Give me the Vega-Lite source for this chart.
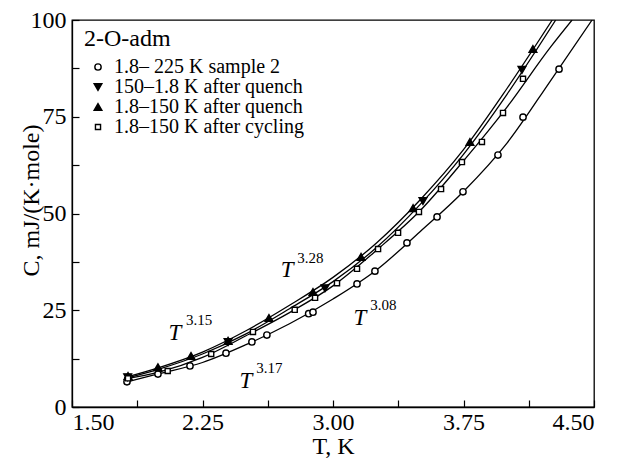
{
  "$schema": "https://vega.github.io/schema/vega-lite/v6.json",
  "autosize": "none",
  "width": 522,
  "height": 387,
  "padding": {"left": 72, "top": 20, "right": 44, "bottom": 58},
  "background": "white",
  "config": {
    "view": {"stroke": "black", "strokeWidth": 1.3},
    "font": "Liberation Serif",
    "axis": {
      "domainColor": "black", "domainWidth": 1.3, "tickColor": "black", "tickWidth": 1.2,
      "labelColor": "black", "titleColor": "black", "labelFont": "Liberation Serif",
      "titleFont": "Liberation Serif", "labelFontSize": 24, "titleFontSize": 24,
      "titleFontWeight": "normal", "grid": false, "tickSize": -7
    }
  },
  "datasets": {
    "pts": [
      {"T": 1.816, "C": 6.5, "s": "1.8– 225 K sample 2"},
      {"T": 1.994, "C": 8.5, "s": "1.8– 225 K sample 2"},
      {"T": 2.178, "C": 10.6, "s": "1.8– 225 K sample 2"},
      {"T": 2.385, "C": 13.9, "s": "1.8– 225 K sample 2"},
      {"T": 2.534, "C": 16.8, "s": "1.8– 225 K sample 2"},
      {"T": 2.62, "C": 18.6, "s": "1.8– 225 K sample 2"},
      {"T": 2.86, "C": 24.1, "s": "1.8– 225 K sample 2"},
      {"T": 2.885, "C": 24.5, "s": "1.8– 225 K sample 2"},
      {"T": 3.138, "C": 31.8, "s": "1.8– 225 K sample 2"},
      {"T": 3.241, "C": 35.1, "s": "1.8– 225 K sample 2"},
      {"T": 3.425, "C": 42.4, "s": "1.8– 225 K sample 2"},
      {"T": 3.598, "C": 49.1, "s": "1.8– 225 K sample 2"},
      {"T": 3.747, "C": 55.6, "s": "1.8– 225 K sample 2"},
      {"T": 3.948, "C": 65.1, "s": "1.8– 225 K sample 2"},
      {"T": 4.092, "C": 74.9, "s": "1.8– 225 K sample 2"},
      {"T": 4.299, "C": 87.3, "s": "1.8– 225 K sample 2"},
      {"T": 1.82, "C": 7.7, "s": "150–1.8 K after quench"},
      {"T": 2.397, "C": 16.8, "s": "150–1.8 K after quench"},
      {"T": 2.954, "C": 30.7, "s": "150–1.8 K after quench"},
      {"T": 3.517, "C": 53.2, "s": "150–1.8 K after quench"},
      {"T": 4.086, "C": 87.1, "s": "150–1.8 K after quench"},
      {"T": 1.822, "C": 8.0, "s": "1.8–150 K after quench"},
      {"T": 1.994, "C": 10.3, "s": "1.8–150 K after quench"},
      {"T": 2.184, "C": 13.2, "s": "1.8–150 K after quench"},
      {"T": 2.397, "C": 17.1, "s": "1.8–150 K after quench"},
      {"T": 2.632, "C": 23.0, "s": "1.8–150 K after quench"},
      {"T": 2.885, "C": 29.7, "s": "1.8–150 K after quench"},
      {"T": 3.161, "C": 38.8, "s": "1.8–150 K after quench"},
      {"T": 3.46, "C": 51.4, "s": "1.8–150 K after quench"},
      {"T": 3.787, "C": 68.5, "s": "1.8–150 K after quench"},
      {"T": 4.149, "C": 92.5, "s": "1.8–150 K after quench"},
      {"T": 1.822, "C": 7.4, "s": "1.8–150 K after cycling"},
      {"T": 2.05, "C": 9.3, "s": "1.8–150 K after cycling"},
      {"T": 2.3, "C": 13.7, "s": "1.8–150 K after cycling"},
      {"T": 2.54, "C": 19.4, "s": "1.8–150 K after cycling"},
      {"T": 2.78, "C": 25.1, "s": "1.8–150 K after cycling"},
      {"T": 2.897, "C": 28.2, "s": "1.8–150 K after cycling"},
      {"T": 3.023, "C": 32.0, "s": "1.8–150 K after cycling"},
      {"T": 3.138, "C": 35.7, "s": "1.8–150 K after cycling"},
      {"T": 3.259, "C": 40.8, "s": "1.8–150 K after cycling"},
      {"T": 3.374, "C": 45.0, "s": "1.8–150 K after cycling"},
      {"T": 3.494, "C": 50.4, "s": "1.8–150 K after cycling"},
      {"T": 3.621, "C": 56.3, "s": "1.8–150 K after cycling"},
      {"T": 3.741, "C": 63.3, "s": "1.8–150 K after cycling"},
      {"T": 3.856, "C": 68.5, "s": "1.8–150 K after cycling"},
      {"T": 3.977, "C": 76.0, "s": "1.8–150 K after cycling"},
      {"T": 4.092, "C": 84.8, "s": "1.8–150 K after cycling"}
    ],
    "fits": [
      {"T": 1.8, "C": 6.3, "f": "a"}, {"T": 2.0, "C": 8.6, "f": "a"}, {"T": 2.25, "C": 11.5, "f": "a"},
      {"T": 2.5, "C": 16.1, "f": "a"}, {"T": 2.75, "C": 21.5, "f": "a"}, {"T": 3.0, "C": 27.9, "f": "a"},
      {"T": 3.25, "C": 35.4, "f": "a"}, {"T": 3.5, "C": 45.3, "f": "a"}, {"T": 3.75, "C": 55.7, "f": "a"},
      {"T": 4.0, "C": 68.2, "f": "a"}, {"T": 4.25, "C": 84.3, "f": "a"}, {"T": 4.489, "C": 100, "f": "a"},
      {"T": 1.8, "C": 7.2, "f": "b"}, {"T": 2.0, "C": 9.0, "f": "b"}, {"T": 2.25, "C": 12.8, "f": "b"},
      {"T": 2.5, "C": 18.4, "f": "b"}, {"T": 2.75, "C": 24.4, "f": "b"}, {"T": 3.0, "C": 31.3, "f": "b"},
      {"T": 3.25, "C": 40.5, "f": "b"}, {"T": 3.5, "C": 50.7, "f": "b"}, {"T": 3.75, "C": 63.6, "f": "b"},
      {"T": 4.0, "C": 77.5, "f": "b"}, {"T": 4.25, "C": 93.0, "f": "b"}, {"T": 4.374, "C": 100, "f": "b"},
      {"T": 1.8, "C": 7.6, "f": "c"}, {"T": 2.0, "C": 10.2, "f": "c"}, {"T": 2.25, "C": 14.2, "f": "c"},
      {"T": 2.5, "C": 19.7, "f": "c"}, {"T": 2.75, "C": 26.3, "f": "c"}, {"T": 3.0, "C": 33.5, "f": "c"},
      {"T": 3.25, "C": 42.4, "f": "c"}, {"T": 3.5, "C": 53.5, "f": "c"}, {"T": 3.75, "C": 66.5, "f": "c"},
      {"T": 4.0, "C": 82.3, "f": "c"}, {"T": 4.26, "C": 100, "f": "c"},
      {"T": 1.8, "C": 7.3, "f": "d"}, {"T": 2.0, "C": 9.8, "f": "d"}, {"T": 2.25, "C": 13.7, "f": "d"},
      {"T": 2.5, "C": 18.9, "f": "d"}, {"T": 2.75, "C": 25.4, "f": "d"}, {"T": 3.0, "C": 32.4, "f": "d"},
      {"T": 3.25, "C": 41.2, "f": "d"}, {"T": 3.5, "C": 52.3, "f": "d"}, {"T": 3.75, "C": 65.3, "f": "d"},
      {"T": 4.0, "C": 80.8, "f": "d"}, {"T": 4.28, "C": 100, "f": "d"}
    ],
    "ann": [
      {"T": 2.092, "C": 19.1, "txt": "T", "k": "base"},
      {"T": 2.23, "C": 22.4, "txt": "3.15", "k": "sup"},
      {"T": 2.736, "C": 35.4, "txt": "T", "k": "base"},
      {"T": 2.87, "C": 38.6, "txt": "3.28", "k": "sup"},
      {"T": 3.155, "C": 23.0, "txt": "T", "k": "base"},
      {"T": 3.29, "C": 26.4, "txt": "3.08", "k": "sup"},
      {"T": 2.5, "C": 6.7, "txt": "T", "k": "base"},
      {"T": 2.635, "C": 10.1, "txt": "3.17", "k": "sup"}
    ]
  },
  "layer": [
    {
      "data": {"name": "fits"},
      "mark": {"type": "line", "interpolate": "monotone", "color": "black", "strokeWidth": 1.3, "clip": true},
      "encoding": {
        "x": {"field": "T", "type": "quantitative"},
        "y": {"field": "C", "type": "quantitative"},
        "detail": {"field": "f"}
      }
    },
    {
      "data": {"name": "pts"},
      "mark": {"type": "point", "filled": false, "stroke": "black", "strokeWidth": 1.4, "opacity": 1},
      "encoding": {
        "x": {
          "field": "T", "type": "quantitative",
          "scale": {"domain": [1.5, 4.5], "nice": false, "zero": false},
          "axis": {
            "title": "T, K", "titlePadding": 0, "labelPadding": 10,
            "values": [1.5, 1.875, 2.25, 2.625, 3.0, 3.375, 3.75, 4.125, 4.5],
            "labelExpr": "abs(datum.value/0.75 - round(datum.value/0.75)) < 0.001 ? format(datum.value, '.2f') : ''"
          }
        },
        "y": {
          "field": "C", "type": "quantitative",
          "scale": {"domain": [0, 100], "nice": false},
          "axis": {
            "title": "C,  mJ/(K·mole)", "labelPadding": 13, "titleX": -29, "titleY": 180,
            "values": [0, 12.5, 25, 37.5, 50, 62.5, 75, 87.5, 100],
            "labelExpr": "abs(datum.value/25 - round(datum.value/25)) < 0.001 ? format(datum.value, 'd') : ''"
          }
        },
        "shape": {
          "field": "s", "type": "nominal",
          "scale": {
            "domain": ["1.8– 225 K sample 2", "150–1.8 K after quench", "1.8–150 K after quench", "1.8–150 K after cycling"],
            "range": ["circle", "triangle-down", "triangle-up", "square"]
          },
          "legend": {
            "title": "2-O-adm", "orient": "none", "legendX": 12, "legendY": 7,
            "titleFont": "Liberation Serif", "titleFontSize": 24, "titleFontWeight": "normal", "titleColor": "black",
            "labelFont": "Liberation Serif", "labelFontSize": 20, "labelColor": "black", "labelOffset": 6,
            "labelLimit": 400, "symbolOffset": 4,
            "rowPadding": -6, "titlePadding": 6, "symbolStrokeColor": "black", "symbolStrokeWidth": 1.4
          }
        },
        "fill": {
          "field": "s", "type": "nominal",
          "scale": {
            "domain": ["1.8– 225 K sample 2", "150–1.8 K after quench", "1.8–150 K after quench", "1.8–150 K after cycling"],
            "range": ["white", "black", "black", "white"]
          }
        },
        "size": {
          "field": "s", "type": "nominal",
          "scale": {
            "type": "ordinal",
            "domain": ["1.8– 225 K sample 2", "150–1.8 K after quench", "1.8–150 K after quench", "1.8–150 K after cycling"],
            "range": [40, 60, 60, 26]
          }
        }
      }
    },
    {
      "data": {"name": "ann"},
      "transform": [{"filter": "datum.k == 'base'"}],
      "mark": {"type": "text", "font": "Liberation Serif", "fontStyle": "italic", "fontSize": 23, "color": "black"},
      "encoding": {
        "x": {"field": "T", "type": "quantitative"},
        "y": {"field": "C", "type": "quantitative"},
        "text": {"field": "txt"}
      }
    },
    {
      "data": {"name": "ann"},
      "transform": [{"filter": "datum.k == 'sup'"}],
      "mark": {"type": "text", "font": "Liberation Serif", "fontSize": 15, "color": "black"},
      "encoding": {
        "x": {"field": "T", "type": "quantitative"},
        "y": {"field": "C", "type": "quantitative"},
        "text": {"field": "txt"}
      }
    }
  ]
}
